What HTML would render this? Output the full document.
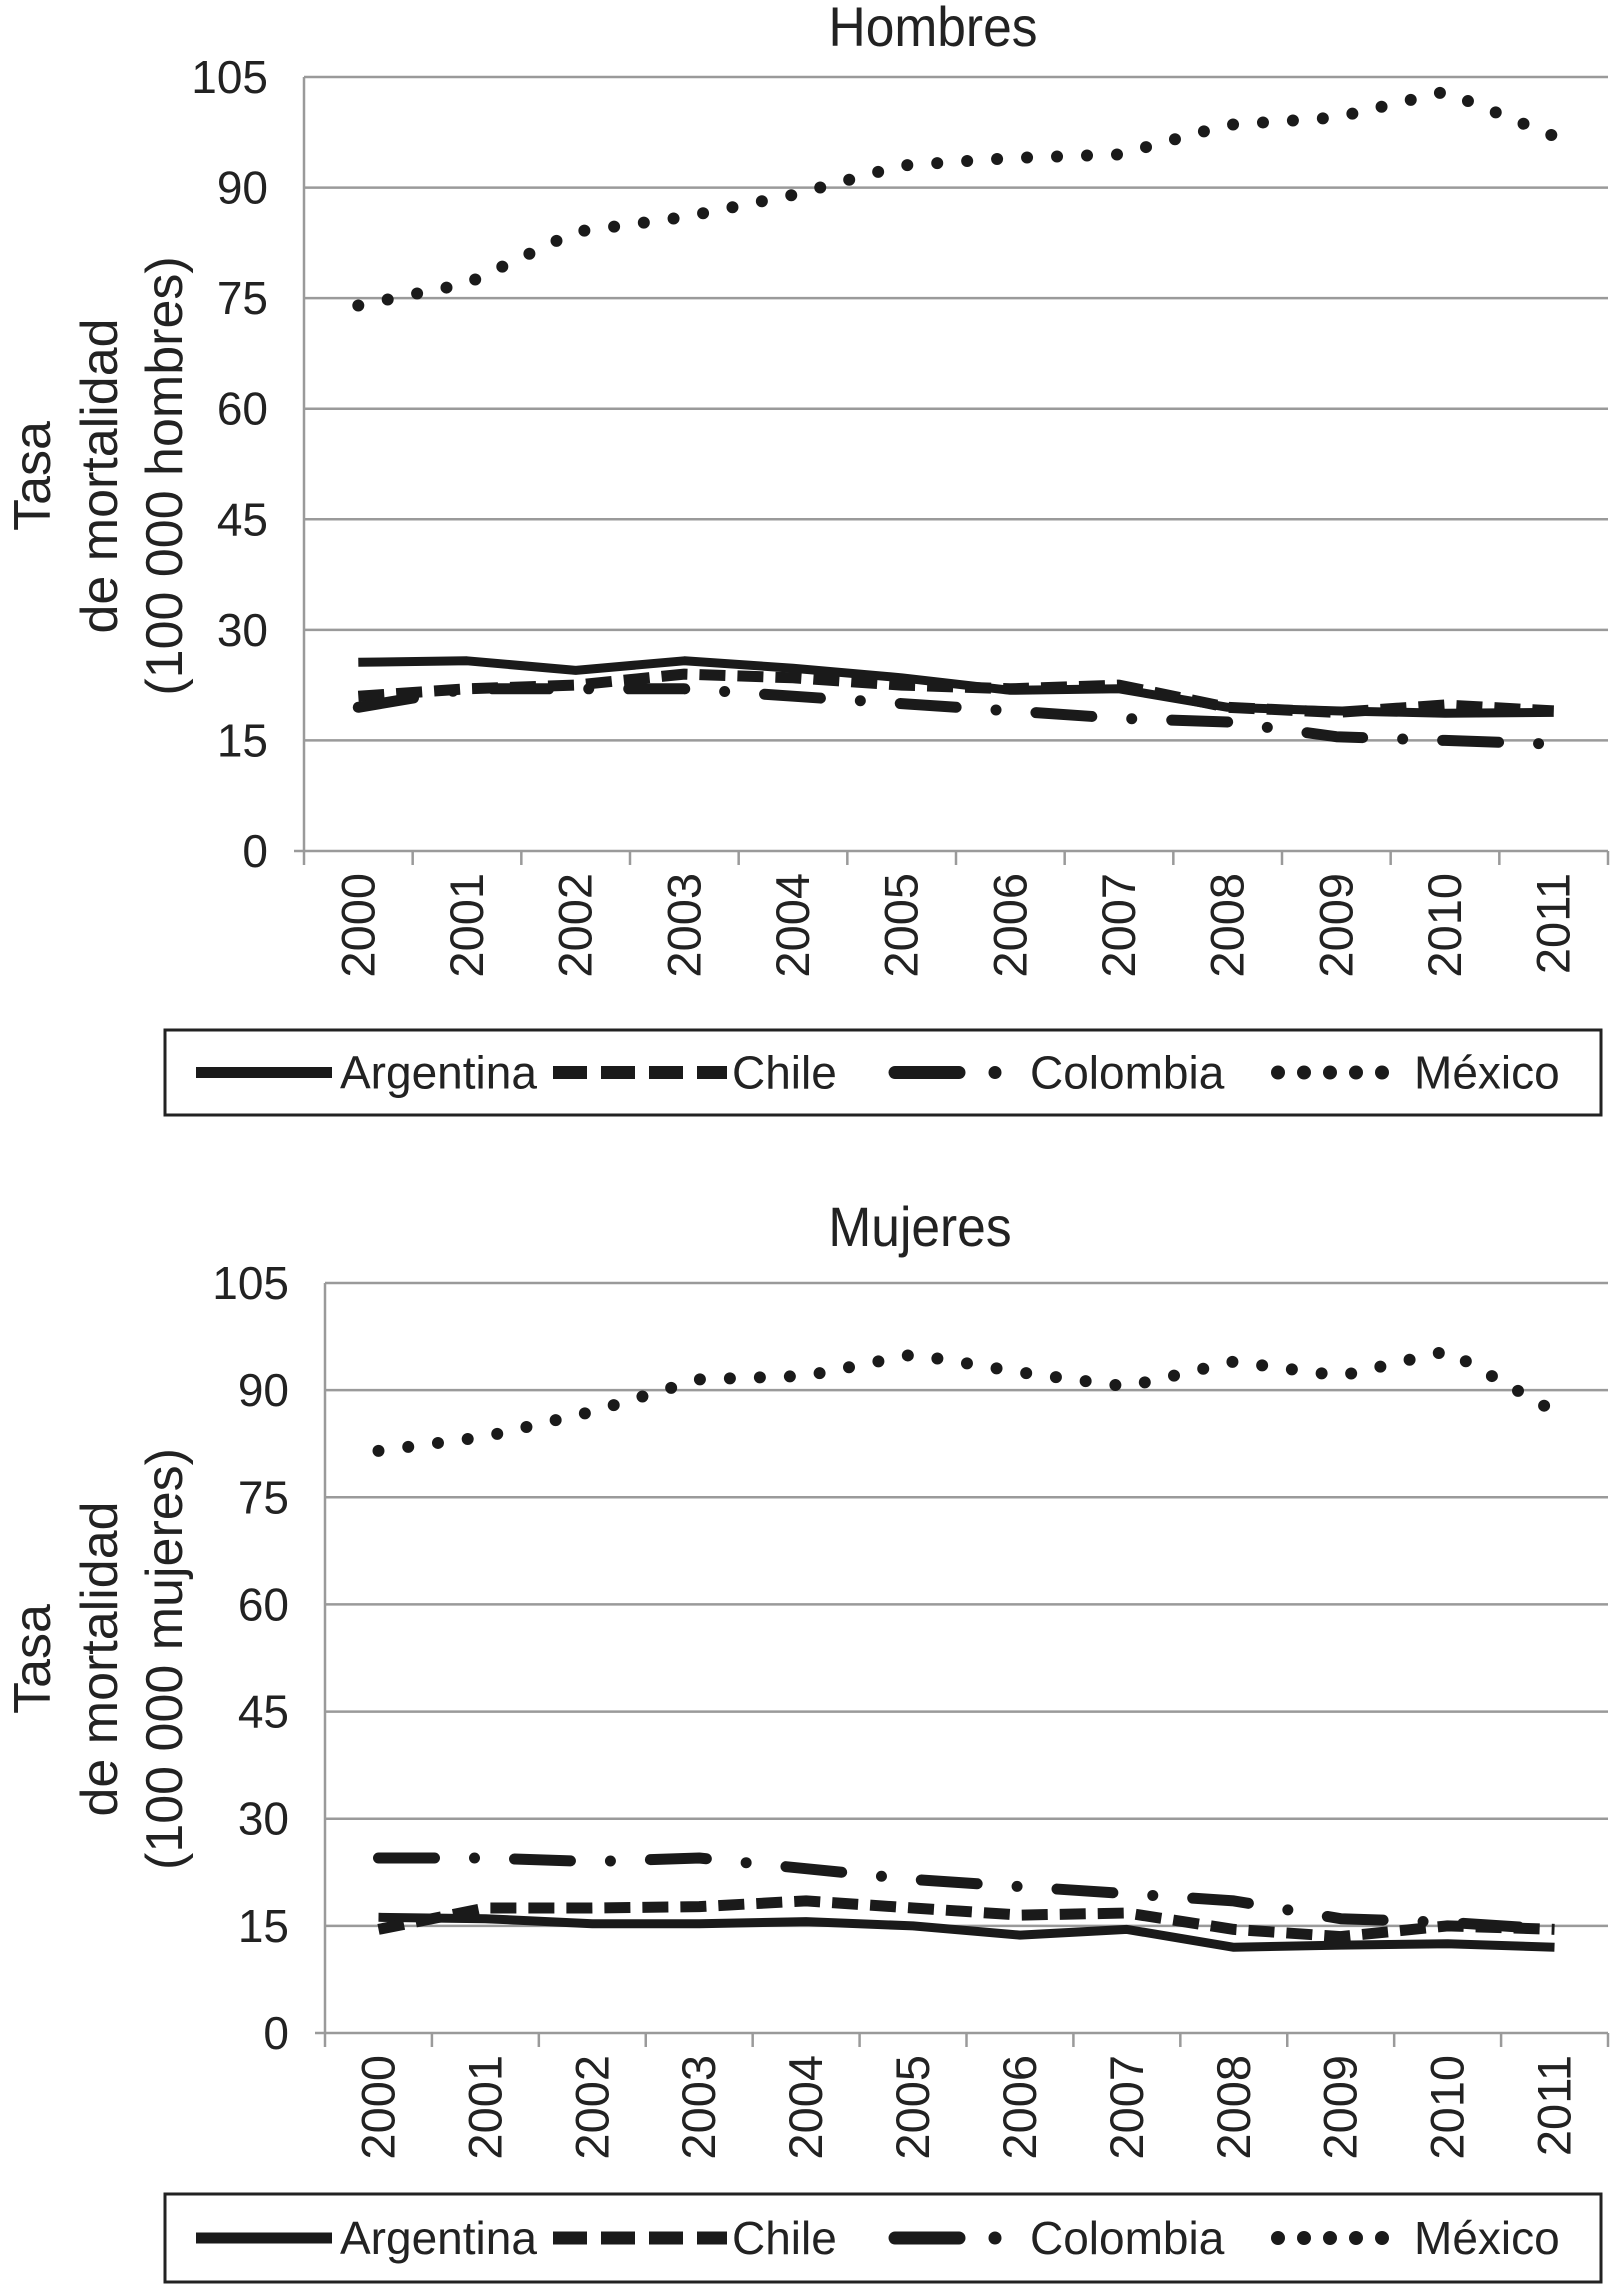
<!DOCTYPE html>
<html><head><meta charset="utf-8">
<style>
html,body{margin:0;padding:0;background:#fff;}
svg{display:block;}
.nar{font-family:"Liberation Sans Narrow","Liberation Sans",sans-serif;}
.reg{font-family:"Liberation Sans",sans-serif;}
</style></head>
<body>
<svg id="chart" width="1617" height="2287" viewBox="0 0 1617 2287" xmlns="http://www.w3.org/2000/svg"></svg>
<script>
const years = ["2000","2001","2002","2003","2004","2005","2006","2007","2008","2009","2010","2011"];
const yTicks = [0,15,30,45,60,75,90,105];
const seriesNames = ["Argentina","Chile","Colombia","México"];
const menArgentina = [25.6,25.8,24.5,25.8,24.8,23.5,21.8,22,19.5,19,18.7,18.8];
const menChile = [21,22,22.5,24,23.5,22.5,22,22.5,19.5,18.8,19.8,19];
const menColombia = [19.5,22,22,22,21,20,19,18,17.5,15.5,15,14.5];
const menMexico = [74,77,84,86,89,93,94,94.5,98.5,99.5,103,97];
const womenArgentina = [16.2,16,15.3,15.3,15.6,15,13.7,14.5,12,12.3,12.5,12];
const womenChile = [14.5,17.5,17.5,17.7,18.5,17.5,16.5,16.8,14.5,13.5,15,14.5];
const womenColombia = [24.5,24.5,24,24.5,23,21.5,20.5,19.5,18.5,16,15.5,14.5];
const womenMexico = [81.5,83.5,87,91.5,92,95,92.5,90.5,94,92,95.5,87];

const NS="http://www.w3.org/2000/svg";
const svg=document.getElementById('chart');
function mk(tag,attrs,parent,text){const e=document.createElementNS(NS,tag);for(const k in attrs)e.setAttribute(k,attrs[k]);if(text!==undefined)e.textContent=text;(parent||svg).appendChild(e);return e;}
const styles=[
 {w:9,dash:null,cap:"butt"},
 {w:11,dash:"26 12",cap:"butt"},
 {w:11,dash:"56 40 0 40",cap:"round"},
 {w:12,dash:"0 30",cap:"round"}
];
function drawChart(cfg){
  const g=mk('g',{});
  
  
  const {left,right,top,bottom}=cfg;
  const yS=v=>bottom-(v/105)*(bottom-top);
  const cw=(right-left)/years.length;
  const xS=i=>left+cw*(i+0.5);
  const t=mk('text',{x:cfg.titleX,y:cfg.titleY,'text-anchor':'middle','font-size':56,class:'nar',fill:'#222',transform:`translate(${cfg.titleX} 0) scale(0.92 1) translate(${-cfg.titleX} 0)`},g,cfg.title);
  
  
  yTicks.forEach(v=>{
    if(v>0){const l=mk('line',{x1:left,x2:right,y1:yS(v),y2:yS(v),stroke:'#9a9a9a','stroke-width':2.5},g);
      
      }
    const tl=mk('text',{x:left-36,y:yS(v)+16,'text-anchor':'end','font-size':46,class:'nar',fill:'#222'},g,String(v));
    
    
  });
  mk('line',{x1:left,x2:left,y1:top,y2:bottom,stroke:'#9a9a9a','stroke-width':2.5},g);
  mk('line',{x1:left-10,x2:right,y1:bottom,y2:bottom,stroke:'#9a9a9a','stroke-width':2.5},g);
  for(let i=0;i<=years.length;i++){mk('line',{x1:left+cw*i,x2:left+cw*i,y1:bottom,y2:bottom+14,stroke:'#9a9a9a','stroke-width':2.5},g);}
  years.forEach((y,i)=>{
    const x=xS(i)+16, yy=bottom+22;
    const tl=mk('text',{x:x,y:yy,'text-anchor':'end','font-size':47,class:'reg',fill:'#222',transform:`rotate(-90 ${x} ${yy})`},g,y);
    
    
  });
  const cx=cfg.axisTitleY;
  const lines=["Tasa","de mortalidad",cfg.unit];
  const xs=[32,99,164];
  lines.forEach((s,k)=>{
    const tx=xs[k]+18;
    const at=mk('text',{x:tx,y:cx,'text-anchor':'middle','font-size':52,class:'reg',fill:'#222',transform:`rotate(-90 ${tx} ${cx})`},g,s);
    
    
  });
  cfg.data.forEach((arr,si)=>{
    const st=styles[si];
    const d=arr.map((v,i)=>(i?'L':'M')+xS(i).toFixed(1)+' '+yS(v).toFixed(1)).join(' ');
    const a={d:d,fill:'none',stroke:'#1a1a1a','stroke-width':st.w,'stroke-linecap':st.cap,'stroke-linejoin':'round'};
    if(st.dash)a['stroke-dasharray']=st.dash;
    const p=mk('path',a,g);
    
    
  });
  const ly=cfg.legTop, lh=cfg.legH;
  const lg=mk('g',{},g);
  
  
  mk('rect',{x:165,y:ly,width:1436,height:lh,fill:'#fff',stroke:'#222','stroke-width':3},lg);
  const cy=ly+lh/2;
  const entries=[[196,332,340],[553,727,732],[895,1020,1030],[1278,1398,1414]];
  const legDash=[null,"34 14","64 36 0 60","0 26"];
  entries.forEach((e,si)=>{
    const st=styles[si];
    const a={x1:e[0],x2:e[1],y1:cy,y2:cy,stroke:'#1a1a1a','stroke-width':st.w+2,'stroke-linecap':st.cap};
    if(legDash[si])a['stroke-dasharray']=legDash[si];
    mk('line',a,lg);
    const tx=mk('text',{x:e[2],y:cy+16,'font-size':46,class:'nar',fill:'#222'},lg,seriesNames[si]);
    
    
  });
}
drawChart({name:'chart-hombres',title:'Hombres',titleX:933,titleY:46,left:304,right:1608,top:77,bottom:851,unit:'(100 000 hombres)',axisTitleY:476,legTop:1030,legH:85,data:[menArgentina,menChile,menColombia,menMexico]});
drawChart({name:'chart-mujeres',title:'Mujeres',titleX:920,titleY:1246,left:325,right:1608,top:1283,bottom:2033,unit:'(100 000 mujeres)',axisTitleY:1659,legTop:2194,legH:88,data:[womenArgentina,womenChile,womenColombia,womenMexico]});
</script>
</body></html>
